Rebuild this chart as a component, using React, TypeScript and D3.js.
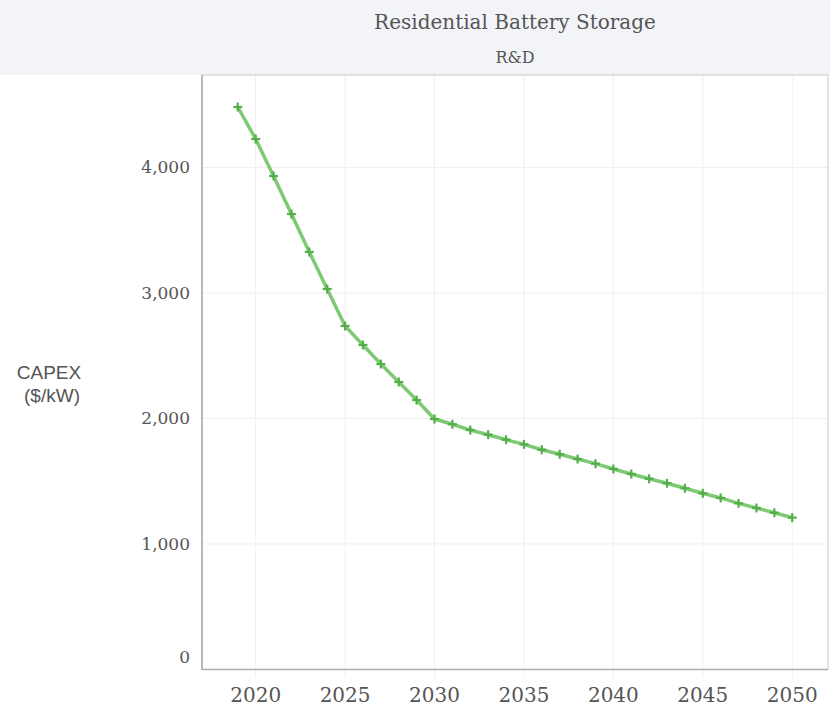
import React from "react";
import * as d3 from "d3";

const years = [
  2019, 2020, 2021, 2022, 2023, 2024, 2025, 2026, 2027, 2028, 2029, 2030, 2031,
  2032, 2033, 2034, 2035, 2036, 2037, 2038, 2039, 2040, 2041, 2042, 2043, 2044,
  2045, 2046, 2047, 2048, 2049, 2050,
];
const capex = [
  4482, 4227, 3932, 3629, 3327, 3032, 2737, 2586, 2434, 2291, 2147, 1996, 1954,
  1908, 1871, 1831, 1794, 1751, 1715, 1677, 1640, 1598, 1558, 1520, 1484, 1444,
  1404, 1367, 1324, 1287, 1249, 1210,
];
const xTicks = [2020, 2025, 2030, 2035, 2040, 2045, 2050];
const yTicks = [0, 1000, 2000, 3000, 4000];

const W = 835;
const H = 714;
const plot = { left: 202, right: 828, top: 75, bottom: 669.5 };
const serif = "Georgia, 'DejaVu Serif', 'Liberation Serif', serif";
const sans = "Arial, 'Liberation Sans', sans-serif";
const textColor = "#555";

export default function App() {
  const x = d3.scaleLinear().domain([2017, 2052]).range([plot.left, plot.right]);
  const y = d3.scaleLinear().domain([0, 4737]).range([plot.bottom, plot.top]);

  const data = years.map((yr, i) => ({ yr, v: capex[i] }));
  const line = d3
    .line<{ yr: number; v: number }>()
    .x((d) => x(d.yr))
    .y((d) => y(d.v));

  return (
    <svg
      width={W}
      height={H}
      style={{ position: "absolute", left: 0, top: 0, background: "#fff" }}
    >
      {/* header band */}
      <rect x={0} y={0} width={830} height={plot.top} fill="#f3f4f8" />
      <text
        x={(plot.left + plot.right) / 2}
        y={29}
        textAnchor="middle"
        fontFamily={serif}
        fontSize={20}
        fill={textColor}
      >
        Residential Battery Storage
      </text>
      <text
        x={(plot.left + plot.right) / 2}
        y={63}
        textAnchor="middle"
        fontFamily={serif}
        fontSize={16}
        fill={textColor}
      >
        R&amp;D
      </text>

      {/* grid */}
      {xTicks.map((t) => (
        <line
          key={"gx" + t}
          x1={x(t)}
          x2={x(t)}
          y1={plot.top}
          y2={plot.bottom + 8}
          stroke="#f0f0f0"
          strokeWidth={1}
        />
      ))}
      {yTicks
        .filter((t) => t > 0)
        .map((t) => (
          <line
            key={"gy" + t}
            x1={plot.left}
            x2={plot.right}
            y1={y(t)}
            y2={y(t)}
            stroke="#f0f0f0"
            strokeWidth={1}
          />
        ))}

      {/* frame */}
      <rect
        x={plot.left}
        y={plot.top}
        width={plot.right - plot.left}
        height={plot.bottom - plot.top}
        fill="none"
        stroke="#c8c8c8"
        strokeWidth={1}
      />
      <line
        x1={plot.left}
        x2={plot.left}
        y1={plot.top}
        y2={plot.bottom}
        stroke="#aaa"
        strokeWidth={1.5}
      />
      <line
        x1={plot.left}
        x2={plot.right}
        y1={plot.bottom}
        y2={plot.bottom}
        stroke="#aaa"
        strokeWidth={1.5}
      />

      {/* y tick labels */}
      {yTicks.map((t) => (
        <text
          key={"yl" + t}
          x={190}
          y={t === 0 ? y(t) - 12 : y(t)}
          dy="0.35em"
          textAnchor="end"
          fontFamily={serif}
          fontSize={17}
          fill={textColor}
        >
          {d3.format(",")(t)}
        </text>
      ))}

      {/* x tick labels */}
      {xTicks.map((t) => (
        <text
          key={"xl" + t}
          x={x(t)}
          y={702}
          textAnchor="middle"
          fontFamily={serif}
          fontSize={20}
          fill={textColor}
        >
          {t}
        </text>
      ))}

      {/* y axis title */}
      <text
        x={49}
        y={379}
        textAnchor="middle"
        fontFamily={sans}
        fontSize={19}
        fill={textColor}
      >
        CAPEX
      </text>
      <text
        x={52}
        y={402}
        textAnchor="middle"
        fontFamily={sans}
        fontSize={19}
        fill={textColor}
      >
        ($/kW)
      </text>

      {/* series */}
      <path
        d={line(data) || ""}
        fill="none"
        stroke="#7ccb72"
        strokeWidth={3.5}
        strokeLinejoin="round"
      />
      {data.map((d) => (
        <g key={"m" + d.yr} transform={`translate(${x(d.yr)},${y(d.v)})`}>
          <line x1={-4.5} x2={4.5} y1={0} y2={0} stroke="#55ad4c" strokeWidth={2.2} />
          <line x1={0} x2={0} y1={-4.5} y2={4.5} stroke="#55ad4c" strokeWidth={2.2} />
        </g>
      ))}
    </svg>
  );
}
